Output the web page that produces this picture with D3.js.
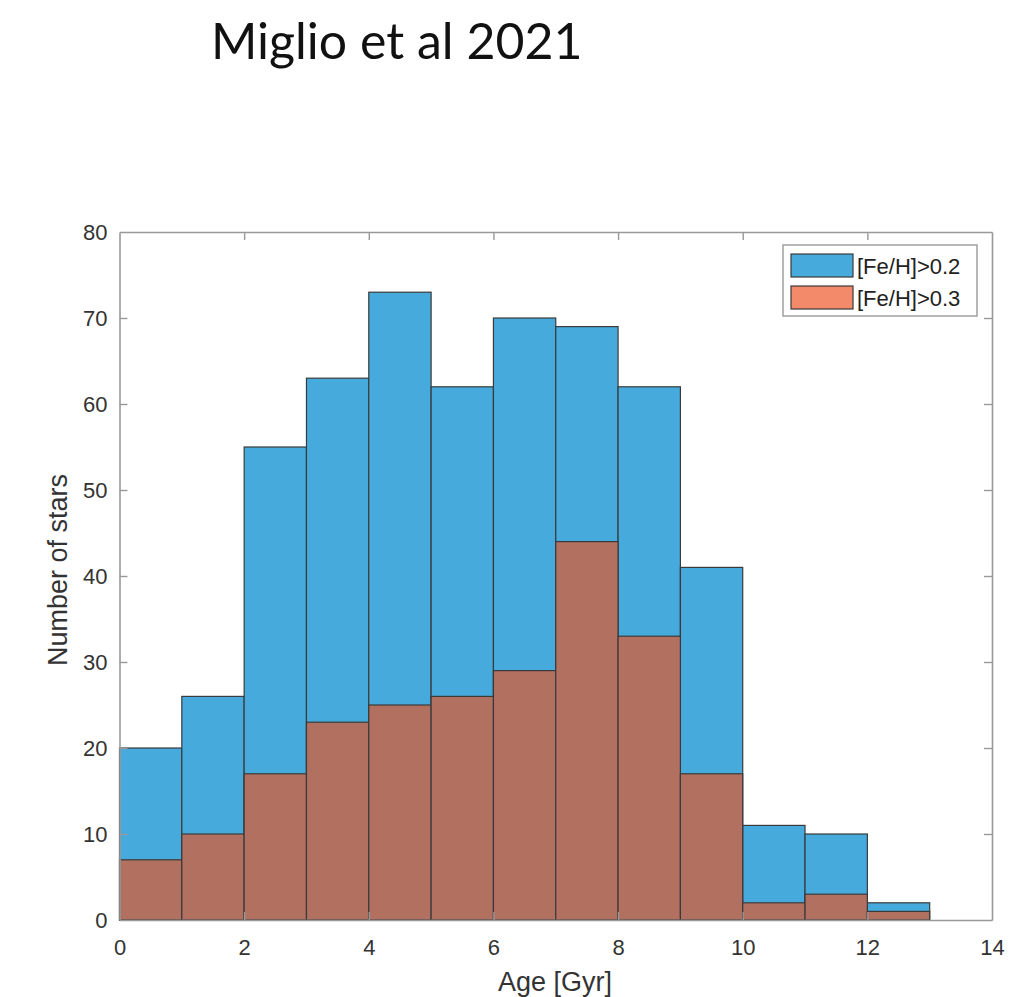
<!DOCTYPE html>
<html>
<head>
<meta charset="utf-8">
<script src="https://cdn.jsdelivr.net/npm/d3@7"></script>
<style>
  body { margin: 0; background: #fff; }
  svg text { font-family: "Liberation Sans", Arial, sans-serif; }
</style>
</head>
<body>
<svg id="chart" width="1031" height="997"></svg>
<script>
// histogram bins, 1 Gyr wide
const binStarts = [0, 1, 2, 3, 4, 5, 6, 7, 8, 9, 10, 11, 12];
const countsFe02 = [20, 26, 55, 63, 73, 62, 70, 69, 62, 41, 11, 10, 2];
const countsFe03 = [7, 10, 17, 23, 25, 26, 29, 44, 33, 17, 2, 3, 1];
const xTicks = [0, 2, 4, 6, 8, 10, 12, 14];
const yTicks = [0, 10, 20, 30, 40, 50, 60, 70, 80];
const seriesNames = ["[Fe/H]>0.2", "[Fe/H]>0.3"];

const svg = d3.select('#chart');

const pLeft = 119.5, pRight = 992, pTop = 232, pBottom = 920;

const x = d3.scaleLinear().domain([0, 14]).range([pLeft, pRight]);
const y = d3.scaleLinear().domain([0, 80]).range([pBottom, pTop]);

const blue = '#46abdc', redOver = '#b17060', redLegend = '#f38b6a', edge = '#3a3a3a';

svg.append('text')
  .attr('x', 211).attr('y', 59)
  .style('font-family', 'Lato, "Noto Sans", sans-serif')
  .style('font-size', '50px')
  .attr('fill', '#111')
  .text('Miglio et al 2021');

// bars
svg.append('g').selectAll('rect')
  .data(binStarts)
  .enter().append('rect')
  .attr('x', d => x(d))
  .attr('width', d => x(d + 1) - x(d))
  .attr('y', (d, i) => y(countsFe02[i]))
  .attr('height', (d, i) => y(0) - y(countsFe02[i]))
  .attr('fill', blue)
  .attr('stroke', edge)
  .attr('stroke-width', 1.2);

svg.append('g').selectAll('rect')
  .data(binStarts)
  .enter().append('rect')
  .attr('x', d => x(d))
  .attr('width', d => x(d + 1) - x(d))
  .attr('y', (d, i) => y(countsFe03[i]))
  .attr('height', (d, i) => y(0) - y(countsFe03[i]))
  .attr('fill', redOver)
  .attr('stroke', edge)
  .attr('stroke-width', 1.2);

// axes box with inward ticks on all sides
const axisColor = '#999';
const tl = 8;

const xb = svg.append('g').attr('transform', `translate(0,${pBottom})`)
  .call(d3.axisBottom(x).tickValues(xTicks).tickSize(-tl).tickPadding(19).tickSizeOuter(0));
const xt = svg.append('g').attr('transform', `translate(0,${pTop})`)
  .call(d3.axisTop(x).tickValues(xTicks).tickSize(-tl).tickFormat('').tickSizeOuter(0));
const yl = svg.append('g').attr('transform', `translate(${pLeft},0)`)
  .call(d3.axisLeft(y).tickValues(yTicks).tickSize(-tl).tickPadding(12).tickSizeOuter(0));
const yr = svg.append('g').attr('transform', `translate(${pRight},0)`)
  .call(d3.axisRight(y).tickValues(yTicks).tickSize(-tl).tickFormat('').tickSizeOuter(0));

for (const g of [xb, xt, yl, yr]) {
  g.select('.domain').attr('stroke', axisColor).attr('stroke-width', 1.6);
  g.selectAll('.tick line').attr('stroke', axisColor).attr('stroke-width', 1.4);
  g.selectAll('.tick text')
    .style('font-size', '22px')
    .attr('fill', '#333');
}
// drop the end ticks that sit on the frame
xb.selectAll('.tick').filter(d => d === 0 || d === 14).select('line').remove();
xt.selectAll('.tick').filter(d => d === 0 || d === 14).select('line').remove();
yl.selectAll('.tick').filter(d => d === 0 || d === 80).select('line').remove();
yr.selectAll('.tick').filter(d => d === 0 || d === 80).select('line').remove();

// axis labels
svg.append('text')
  .attr('x', 555).attr('y', 991)
  .attr('text-anchor', 'middle')
  .style('font-size', '27px')
  .attr('fill', '#333')
  .text('Age [Gyr]');

svg.append('text')
  .attr('transform', `translate(67,570) rotate(-90)`)
  .attr('text-anchor', 'middle')
  .style('font-size', '27px')
  .attr('fill', '#333')
  .text('Number of stars');

// legend
const lg = svg.append('g');
lg.append('rect')
  .attr('x', 783).attr('y', 245).attr('width', 194).attr('height', 71)
  .attr('fill', '#fff').attr('stroke', axisColor).attr('stroke-width', 1.4);

const legendColors = [blue, redLegend];
const li = lg.selectAll('g.item')
  .data(seriesNames)
  .enter().append('g')
  .attr('class', 'item')
  .attr('transform', (d, i) => `translate(791,${254 + i * 32})`);
li.append('rect')
  .attr('width', 62).attr('height', 23)
  .attr('fill', (d, i) => legendColors[i])
  .attr('stroke', edge).attr('stroke-width', 1.2);
li.append('text')
  .attr('x', 66).attr('y', 20)
  .style('font-size', '22px')
  .attr('fill', '#222')
  .text(d => d);
</script>
</body>
</html>
